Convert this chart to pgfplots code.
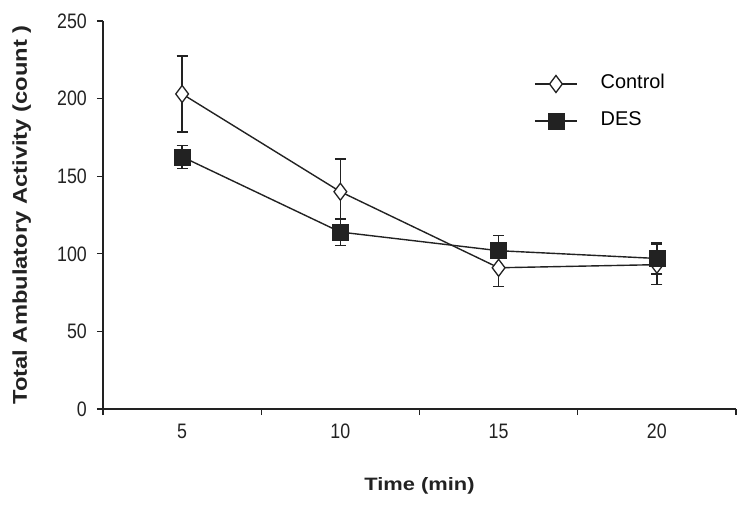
\documentclass[border=0pt]{standalone}
\usepackage{fontspec}
\setmainfont{Liberation Sans}
\newfontfamily\tickfont{Liberation Sans}[FakeStretch=0.85]
\newfontfamily\xlabfont{Liberation Sans}[FakeStretch=1.22]
\newfontfamily\ylabfont{Liberation Sans}[FakeStretch=1.19]
\usepackage{pgfplots}
\pgfplotsset{compat=1.18}
\usepackage{pgfplotstable}
\definecolor{ink}{HTML}{222222}

\pgfplotstableread{
x y ep em
0 203 24.5 24.5
1 140 21 21
2 91 12 12
3 93 13 13
}\control

\pgfplotstableread{
x y ep em
0 162.5 7.5 7.5
1 114 8.5 8.5
2 102 10 10
3 97 10 10
}\des

\begin{document}
\begin{tikzpicture}
\useasboundingbox (-103bp,-97bp) rectangle (643bp,409bp);
\begin{axis}[
  at={(0,0)}, anchor=south west,
  scale only axis, width=633bp, height=388bp,
  xmin=-0.5, xmax=3.5, ymin=0, ymax=250,
  axis x line=bottom, axis y line=left,
  axis line style={-, line width=1.2bp, color=ink},
  xtick={-0.5,0.5,1.5,2.5,3.5}, xticklabels={},
  extra x ticks={0,1,2,3}, extra x tick labels={5,10,15,20},
  extra x tick style={major tick length=0pt},
  ytick={0,50,100,150,200,250},
  tick align=outside, major tick length=6bp,
  tick style={line width=1.2bp, color=ink},
  /pgf/number format/assume math mode=true,
  ticklabel style={font=\tickfont\fontsize{21}{21}\selectfont, color=ink},
  yticklabel style={inner sep=0pt, xshift=-10bp},
  xticklabel style={inner sep=0pt, yshift=-15bp},
  xlabel={Time (min)},
  ylabel={Total Ambulatory Activity (count )},
  xlabel style={at={(axis description cs:0.5,0)}, anchor=base, yshift=-81bp, inner sep=0pt,
    font=\xlabfont\bfseries\fontsize{18}{18}\selectfont, color=ink},
  ylabel style={at={(axis description cs:0,0.5)}, anchor=base, yshift=76bp, inner sep=0pt,
    font=\ylabfont\bfseries\fontsize{20}{20}\selectfont, color=ink},
  legend style={at={(axis description cs:0.681,0.790)}, anchor=west, draw=none, fill=none,
    inner sep=0pt, font=\fontsize{20}{20}\selectfont, row sep=19bp,
    nodes={inner sep=0pt, text height=14bp, text depth=4bp},
    /tikz/every odd column/.append style={column sep=23bp}},
  legend cell align=left,
  legend image code/.code={%
    \draw[mark repeat=2, mark phase=2, #1] plot coordinates {(0bp,0bp) (21bp,0bp) (42bp,0bp)};},
  clip=false,
]
\addplot[color=ink, line width=1.4bp, mark=diamond*, mark size=8.5bp,
  mark options={fill=white, line width=1.3bp},
  error bars/.cd, y dir=both, y explicit,
  error bar style={line width=1.3bp, color=ink},
  error mark options={rotate=90, mark size=5.5bp, line width=1.3bp}]
  table[x=x, y=y, y error plus=ep, y error minus=em] {\control};
\addlegendentry{Control}
\addplot[color=ink, line width=1.4bp, mark=square*, mark size=8bp,
  mark options={fill=ink, line width=0.5bp},
  error bars/.cd, y dir=both, y explicit,
  error bar style={line width=1.3bp, color=ink},
  error mark options={rotate=90, mark size=5.5bp, line width=1.3bp}]
  table[x=x, y=y, y error plus=ep, y error minus=em] {\des};
\addlegendentry{DES}
\end{axis}
\end{tikzpicture}
\end{document}
